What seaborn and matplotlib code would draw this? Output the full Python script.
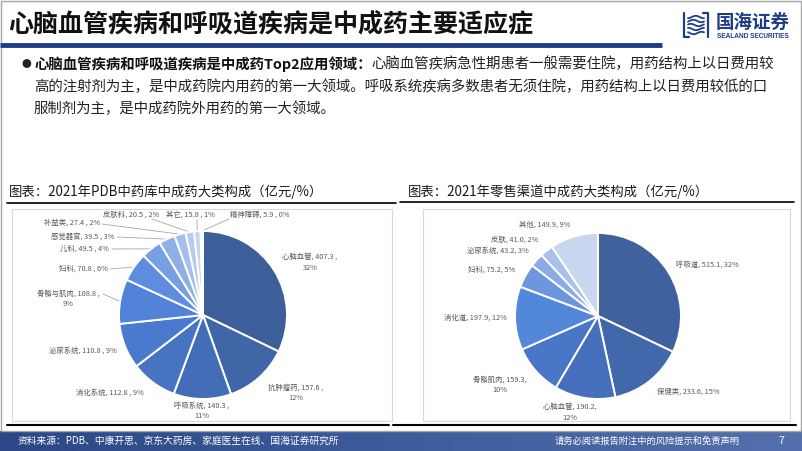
import numpy as np
import matplotlib
matplotlib.use('Agg')
import matplotlib.pyplot as plt
import seaborn as sns
from matplotlib.patches import Rectangle
from matplotlib.colors import LinearSegmentedColormap

sns.set_theme(style='white')
plt.rcParams['font.family'] = ['Noto Sans CJK SC', 'DejaVu Sans']

# ---------------- data ----------------
pdb_names = ['心脑血管', '抗肿瘤药', '呼吸系统', '消化系统', '泌尿系统', '骨骼与肌肉', '妇科',
             '儿科', '感觉器官', '补益类', '皮肤科', '其它', '精神障碍']
pdb_values = [407.3, 157.6, 140.3, 112.8, 110.8, 108.8, 70.8, 49.5, 39.5, 27.4, 20.5, 15.8, 5.9]
pdb_pcts = [32, 12, 11, 9, 9, 9, 6, 4, 3, 2, 2, 1, 0]

retail_names = ['呼吸道', '保健类', '心脑血管', '骨骼肌肉', '消化道', '妇科', '泌尿系统', '皮肤', '其他']
retail_values = [515.1, 233.6, 190.2, 159.3, 197.9, 75.2, 43.2, 41.0, 149.9]
retail_pcts = [32, 15, 12, 10, 12, 5, 3, 2, 9]

page_title = '心脑血管疾病和呼吸道疾病是中成药主要适应症'
bullet_bold = '心脑血管疾病和呼吸道疾病是中成药Top2应用领域：'
bullet_lines = ['心脑血管疾病急性期患者一般需要住院，用药结构上以日费用较',
                '高的注射剂为主，是中成药院内用药的第一大领域。呼吸系统疾病多数患者无须住院，用药结构上以日费用较低的口',
                '服制剂为主，是中成药院外用药的第一大领域。']
chart1_title = '图表：2021年PDB中药库中成药大类构成（亿元/%）'
chart2_title = '图表：2021年零售渠道中成药大类构成（亿元/%）'
source_text = '资料来源：PDB、中康开思、京东大药房、家庭医生在线、国海证券研究所'
disclaimer = '请务必阅读报告附注中的风险提示和免责声明'
page_no = '7'

# ---------------- styles / layout ----------------
pdb_colors = ['#3D5F99', '#4066A8', '#436DB6', '#4673C2', '#4A7ACD', '#5383D8', '#5E8DDF',
              '#779FE2', '#8FB0E6', '#A5BFEA', '#B6CBEE', '#C5D5F1', '#D3DFF4']
retail_colors = ['#3F619E', '#4268AC', '#456FBA', '#4976C6', '#5387DA', '#6E96DD',
                 '#8BABE3', '#A8C0EA', '#C8D6F0']
NAVY = '#1F3C88'
LABEL_C = '#595959'
BODY_FS = 10.4

W, H = 802, 451
fig = plt.figure(figsize=(W / 100, H / 100), dpi=100)
bg = fig.add_axes([0, 0, 1, 1])
bg.axis('off')

# footer gradient band
grad = np.linspace(0, 1, 256).reshape(1, -1)
cmap = LinearSegmentedColormap.from_list('band', ['#2B4786', '#3E5C9C', '#5470AC'])
bg.imshow(grad, extent=[0, W, H, 431], aspect='auto', cmap=cmap, zorder=0)
bg.set_xlim(0, W)
bg.set_ylim(H, 0)

# slide frame
bg.add_patch(Rectangle((0.5, 0.5), W - 1.5, 430, fill=False, edgecolor='#A6A6A6', lw=1))

# title
bg.text(8, 25, page_title, fontsize=18, color='#111111', va='center', ha='left', fontweight='bold')
bg.plot([0, 662], [45, 45], color=NAVY, lw=3.5, solid_capstyle='butt')

# logo
icon_x, icon_y = 684, 13
for k in range(5):
    yy = icon_y + 4 + k * 4
    xs = np.linspace(icon_x + 4, icon_x + 20, 20)
    bg.plot(xs, yy + 1.2 * np.sin((xs - icon_x) / 2.5 + k), color=NAVY, lw=1.3)
bg.plot([icon_x, icon_x, icon_x + 5], [icon_y, icon_y + 24, icon_y + 24], color=NAVY, lw=1.6)
bg.plot([icon_x + 19, icon_x + 24, icon_x + 24], [icon_y, icon_y, icon_y + 24], color=NAVY, lw=1.6)
bg.text(716, 22, '国海证券', fontsize=13.3, color=NAVY, fontweight='bold', va='center', ha='left')
bg.text(717, 36.5, 'SEALAND SECURITIES', fontsize=4.7, color=NAVY, fontweight='bold',
        va='center', ha='left', family=['Liberation Sans', 'DejaVu Sans'])

# bullet paragraph
bg.text(21, 64, '●', fontsize=7, color='#222222', va='center', ha='left')
t_bold = bg.text(34, 64, bullet_bold, fontsize=BODY_FS, color='#111111', fontweight='bold',
                 va='center', ha='left')
bg.annotate(bullet_lines[0], xy=(1, 0.5), xycoords=t_bold, va='center', ha='left',
            fontsize=BODY_FS, color='#222222')
bg.text(34, 87, bullet_lines[1], fontsize=BODY_FS, color='#222222', va='center', ha='left')
bg.text(34, 109, bullet_lines[2], fontsize=BODY_FS, color='#222222', va='center', ha='left')

# chart titles and rules
bg.text(9, 192, chart1_title, fontsize=9.6, color='#1A1A1A', va='center', ha='left')
bg.text(408, 192, chart2_title, fontsize=9.6, color='#1A1A1A', va='center', ha='left')
bg.plot([7, 396], [203, 203], color='black', lw=1.2)
bg.plot([400, 794], [202, 202], color='black', lw=1.2)
bg.add_patch(Rectangle((12, 209), 380, 212, fill=False, edgecolor='#D9D9D9', lw=0.8))
bg.add_patch(Rectangle((423, 209), 367, 212, fill=False, edgecolor='#D9D9D9', lw=0.8))
bg.plot([7, 389], [425, 425], color='black', lw=1.5)
bg.plot([393, 796], [425, 425], color='black', lw=1.5)

# footer text
bg.text(18, 441, source_text, fontsize=7, color='white', va='center', ha='left')
bg.text(555, 441, disclaimer, fontsize=6.7, color='white', va='center', ha='left', style='italic')
bg.text(781, 441, page_no, fontsize=7.5, color='white', va='center', ha='center')


def draw_pie(cx, cy, r, values, colors):
    ax = fig.add_axes([(cx - r) / W, 1 - (cy + r) / H, 2 * r / W, 2 * r / H])
    wedges, _ = ax.pie(values, colors=colors, startangle=90, counterclock=False, radius=1,
                       wedgeprops=dict(edgecolor='white', linewidth=1.4))
    ax.set_xlim(-1, 1)
    ax.set_ylim(-1, 1)
    ax.axis('off')
    rim = []
    for w in wedges:
        m = np.deg2rad((w.theta1 + w.theta2) / 2)
        rim.append((cx + r * np.cos(m), cy - r * np.sin(m)))
    return rim


# left pie
L_cx, L_cy, L_r = 203, 315, 84
rimL = draw_pie(L_cx, L_cy, L_r, pdb_values, pdb_colors)
left_lab_xy = [(310, 262), (296, 393), (202, 411), (110, 393), (83, 351), (68, 299), (83, 269),
               (84, 249), (83, 237), (72, 223), (131, 215), (190, 215), (260, 215)]
left_break = [True, True, True, False, False, True, False, False, False, False, False, False, False]
left_leader = {5: (103, 294), 6: (110, 269), 7: (112, 249), 8: (117, 237), 9: (102, 224),
               10: (152, 219), 11: (197, 220), 12: (229, 219)}
for i, (n, v, p) in enumerate(zip(pdb_names, pdb_values, pdb_pcts)):
    sep = ' ,\n' if left_break[i] else ' , '
    lab = f'{n}, {v:.1f}{sep}{p}%'
    x, y = left_lab_xy[i]
    bg.text(x, y, lab, fontsize=5.3, color=LABEL_C, ha='center', va='center',
            multialignment='center', linespacing=1.5)
    if i in left_leader:
        sx, sy = left_leader[i]
        ex, ey = rimL[i]
        bg.plot([sx, ex], [sy, ey], color='#A6A6A6', lw=0.6)

# right pie
R_cx, R_cy, R_r = 598, 316, 83
draw_pie(R_cx, R_cy, R_r, retail_values, retail_colors)
right_lab_xy = [(707, 265), (688, 392), (570, 412), (500, 385), (475, 318), (492, 270),
                (498, 251), (515, 240), (545, 225)]
right_break = [False, False, True, True, False, False, False, False, False]
for i, (n, v, p) in enumerate(zip(retail_names, retail_values, retail_pcts)):
    sep = ',\n' if right_break[i] else ', '
    lab = f'{n}, {v:.1f}{sep}{p}%'
    x, y = right_lab_xy[i]
    bg.text(x, y, lab, fontsize=5.3, color=LABEL_C, ha='center', va='center',
            multialignment='center', linespacing=1.5)

fig.savefig('out.png', dpi=100)
